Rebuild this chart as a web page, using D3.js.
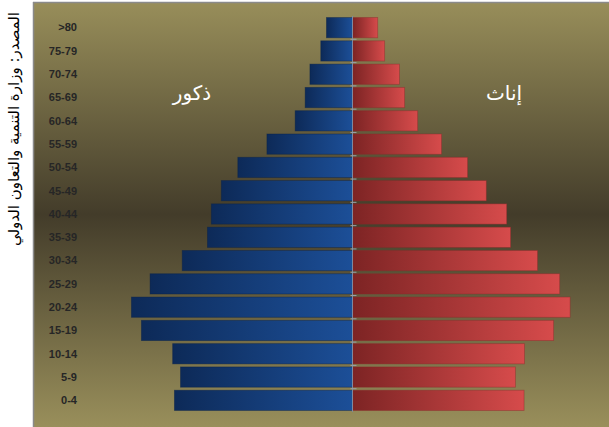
<!DOCTYPE html>
<html><head><meta charset="utf-8">
<script src="https://cdn.jsdelivr.net/npm/d3@7/dist/d3.min.js"></script>
<style>html,body{margin:0;padding:0;background:#fff;}svg{display:block;}</style>
</head><body>
<script>
// Age groups, top to bottom
const ageGroups = [">80","75-79","70-74","65-69","60-64","55-59","50-54","45-49","40-44","35-39","30-34","25-29","20-24","15-19","10-14","5-9","0-4"];
// Estimated shares (% of population)
const males   = [0.60,0.73,0.98,1.09,1.32,1.97,2.64,3.02,3.25,3.34,3.92,4.66,5.09,4.86,4.14,3.96,4.10];
const females = [0.58,0.74,1.08,1.20,1.50,2.05,2.65,3.08,3.55,3.64,4.26,4.77,5.01,4.63,3.96,3.75,3.95];
const maleLabel = "ذكور";
const femaleLabel = "إناث";
const sourceText = "المصدر: وزارة التنمية والتعاون الدولي";

const W = 609, H = 427;
const plot = {x0: 33, x1: 609, y0: 2, y1: 427};

const svg = d3.select("body").append("svg").attr("width", W).attr("height", H);
const defs = svg.append("defs");

const bg = defs.append("linearGradient").attr("id","bg").attr("x1",0).attr("y1",0).attr("x2",0).attr("y2",1);
bg.append("stop").attr("offset","0%").attr("stop-color","#988e5a");
bg.append("stop").attr("offset","50%").attr("stop-color","#433c2a");
bg.append("stop").attr("offset","100%").attr("stop-color","#998f5b");

const gb = defs.append("linearGradient").attr("id","gBlue").attr("x1",0).attr("y1",0).attr("x2",1).attr("y2",0);
gb.append("stop").attr("offset","0%").attr("stop-color","#0d2a58");
gb.append("stop").attr("offset","100%").attr("stop-color","#1c4f98");
const gr = defs.append("linearGradient").attr("id","gRed").attr("x1",0).attr("y1",0).attr("x2",1).attr("y2",0);
gr.append("stop").attr("offset","0%").attr("stop-color","#7d2424");
gr.append("stop").attr("offset","100%").attr("stop-color","#d64b4b");

// plot background
svg.append("rect").attr("x",plot.x0).attr("y",plot.y0).attr("width",plot.x1-plot.x0).attr("height",plot.y1-plot.y0)
  .attr("fill","url(#bg)");
svg.append("line").attr("x1",plot.x0).attr("x2",plot.x1).attr("y1",plot.y0+0.5).attr("y2",plot.y0+0.5).attr("stroke","#8a8a8a").attr("stroke-width",1.5);
svg.append("line").attr("x1",plot.x0+0.5).attr("x2",plot.x0+0.5).attr("y1",plot.y0).attr("y2",plot.y1).attr("stroke","#8a8a8a").attr("stroke-width",1.5);

const x = d3.scaleLinear().domain([-7.355, 5.905]).range([plot.x0, plot.x1]);
const y = d3.scaleBand().domain(ageGroups).range([16, 412]).paddingInner(0.13).paddingOuter(0.065);

const rows = ageGroups.map((g,i)=>({g, m: males[i], f: females[i]}));

svg.append("g").selectAll("rect").data(rows).join("rect")
  .attr("x", d=>x(-d.m)).attr("y", d=>y(d.g))
  .attr("width", d=>x(0)-x(-d.m)).attr("height", y.bandwidth())
  .attr("fill","url(#gBlue)").attr("stroke","#0a2248").attr("stroke-opacity",0.5).attr("stroke-width",0.8);

svg.append("g").selectAll("rect").data(rows).join("rect")
  .attr("x", x(0)+0.5).attr("y", d=>y(d.g))
  .attr("width", d=>x(d.f)-x(0)-0.5).attr("height", y.bandwidth())
  .attr("fill","url(#gRed)").attr("stroke","#8a2a2a").attr("stroke-opacity",0.5).attr("stroke-width",0.8);

// center axis with ticks between categories
const ax = svg.append("g");
ax.append("line").attr("x1",x(0)).attr("x2",x(0)).attr("y1",y.range()[0]).attr("y2",y.range()[1])
  .attr("stroke","#7f8aa0").attr("stroke-width",1);
const step = y.step();
ax.selectAll("line.t").data(ageGroups.slice(1)).join("line").attr("class","t")
  .attr("x1",x(0)-2).attr("x2",x(0)+4)
  .attr("y1",d=>y(d)-step*0.065).attr("y2",d=>y(d)-step*0.065)
  .attr("stroke","#9aa0a8").attr("stroke-width",1);

// category labels
svg.append("g").selectAll("text").data(ageGroups).join("text")
  .attr("x",77).attr("y",d=>y(d)+y.bandwidth()/2).attr("dy","0.35em")
  .attr("text-anchor","end").attr("font-family","Liberation Sans, Arial, sans-serif")
  .attr("font-weight","bold").attr("font-size","11px").attr("fill","#262626")
  .text(d=>d);

// series labels
svg.append("text").attr("x",192).attr("y",100).attr("text-anchor","middle")
  .attr("font-family","DejaVu Sans, sans-serif").attr("font-size","20px").attr("fill","#ffffff").text(maleLabel);
svg.append("text").attr("x",504).attr("y",100).attr("text-anchor","middle")
  .attr("font-family","DejaVu Sans, sans-serif").attr("font-size","20px").attr("fill","#ffffff").text(femaleLabel);

// source (vertical)
svg.append("text").attr("transform","translate(19,129) rotate(-90)")
  .attr("text-anchor","middle").attr("font-family","DejaVu Sans, sans-serif")
  .attr("font-size","15px").attr("fill","#000").text(sourceText);
</script>
</body></html>
